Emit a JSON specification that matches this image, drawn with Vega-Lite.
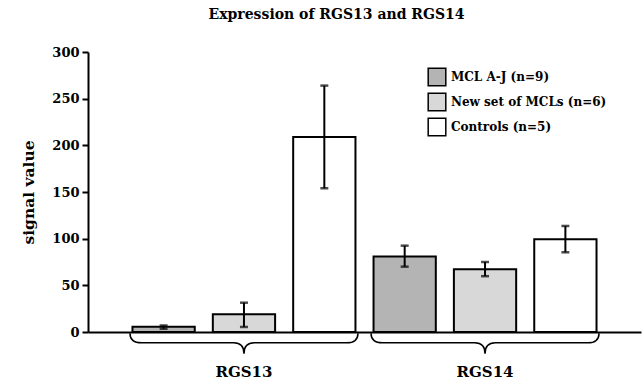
{
  "$schema": "https://vega.github.io/schema/vega-lite/v6.json",
  "width": 553,
  "height": 280,
  "autosize": "none",
  "padding": {"left": 88, "top": 52, "right": 2, "bottom": 50},
  "background": "white",
  "config": {
    "view": {"stroke": null},
    "font": "DejaVu Serif"
  },
  "title": {
    "text": "Expression of RGS13 and RGS14",
    "font": "DejaVu Serif",
    "fontWeight": "bold",
    "fontSize": 14,
    "color": "black",
    "anchor": "middle",
    "dx": -28,
    "offset": 24
  },
  "datasets": {
    "bars": [
      {"gene": "RGS13", "series": "MCL A-J (n=9)", "value": 5.5, "low": 3.5, "high": 7},
      {"gene": "RGS13", "series": "New set of MCLs (n=6)", "value": 19, "low": 5.4, "high": 31.4},
      {"gene": "RGS13", "series": "Controls (n=5)", "value": 209, "low": 154, "high": 264},
      {"gene": "RGS14", "series": "MCL A-J (n=9)", "value": 81, "low": 70, "high": 92.5},
      {"gene": "RGS14", "series": "New set of MCLs (n=6)", "value": 67.3, "low": 59.8, "high": 75},
      {"gene": "RGS14", "series": "Controls (n=5)", "value": 99.3, "low": 85.4, "high": 113.6}
    ],
    "genes": [{"gene": "RGS13"}, {"gene": "RGS14"}]
  },
  "encoding": {
    "x": {
      "field": "gene",
      "type": "nominal",
      "scale": {"paddingInner": 0, "paddingOuter": 0.147},
      "axis": {
        "title": null,
        "labelAngle": 0,
        "ticks": false,
        "domainColor": "black",
        "domainWidth": 2,
        "labelFont": "DejaVu Serif",
        "labelFontWeight": "bold",
        "labelFontSize": 15,
        "labelColor": "black",
        "labelPadding": 32
      }
    }
  },
  "layer": [
    {
      "data": {"name": "bars"},
      "mark": {"type": "bar", "stroke": "black", "strokeWidth": 2},
      "encoding": {
        "xOffset": {
          "field": "series",
          "type": "nominal",
          "sort": ["MCL A-J (n=9)", "New set of MCLs (n=6)", "Controls (n=5)"],
          "scale": {"paddingInner": 0.225, "paddingOuter": 0.1125}
        },
        "y": {
          "field": "value",
          "type": "quantitative",
          "scale": {"domain": [0, 300], "nice": false},
          "axis": {
            "title": "signal value",
            "values": [0, 50, 100, 150, 200, 250, 300],
            "grid": false,
            "domainColor": "black",
            "domainWidth": 2,
            "tickColor": "black",
            "tickWidth": 2,
            "tickSize": 6,
            "labelFont": "DejaVu Serif",
            "labelFontWeight": "bold",
            "labelFontSize": 13,
            "labelColor": "black",
            "labelPadding": 3,
            "titleFont": "DejaVu Serif",
            "titleFontWeight": "bold",
            "titleFontSize": 15.5,
            "titleColor": "black",
            "titlePadding": 15
          }
        },
        "fill": {
          "field": "series",
          "type": "nominal",
          "scale": {
            "domain": ["MCL A-J (n=9)", "New set of MCLs (n=6)", "Controls (n=5)"],
            "range": ["#b4b4b4", "#d8d8d8", "#ffffff"]
          },
          "legend": {
            "title": null,
            "orient": "none",
            "legendX": 339,
            "legendY": 15,
            "symbolType": "square",
            "symbolSize": 310,
            "symbolStrokeColor": "black",
            "symbolStrokeWidth": 1.5,
            "symbolOpacity": 1,
            "labelFont": "DejaVu Serif",
            "labelFontWeight": "bold",
            "labelFontSize": 12,
            "labelColor": "black",
            "labelOffset": 4,
            "rowPadding": 1,
            "labelLimit": 300
          }
        }
      }
    },
    {
      "data": {"name": "bars"},
      "mark": {"type": "rule", "color": "black", "strokeWidth": 2},
      "encoding": {
        "xOffset": {"field": "series", "type": "nominal", "sort": ["MCL A-J (n=9)", "New set of MCLs (n=6)", "Controls (n=5)"]},
        "y": {"field": "low", "type": "quantitative"},
        "y2": {"field": "high"}
      }
    },
    {
      "data": {"name": "bars"},
      "mark": {"type": "tick", "color": "black", "size": 8, "thickness": 2.5},
      "encoding": {
        "xOffset": {"field": "series", "type": "nominal", "sort": ["MCL A-J (n=9)", "New set of MCLs (n=6)", "Controls (n=5)"]},
        "y": {"field": "low", "type": "quantitative"}
      }
    },
    {
      "data": {"name": "bars"},
      "mark": {"type": "tick", "color": "black", "size": 8, "thickness": 2.5},
      "encoding": {
        "xOffset": {"field": "series", "type": "nominal", "sort": ["MCL A-J (n=9)", "New set of MCLs (n=6)", "Controls (n=5)"]},
        "y": {"field": "high", "type": "quantitative"}
      }
    },
    {
      "data": {"name": "genes"},
      "mark": {
        "type": "point",
        "shape": "M -1 0.01 Q -1 0.095 -0.9 0.095 L -0.09 0.095 Q 0 0.095 0 0.19 Q 0 0.095 0.09 0.095 L 0.9 0.095 Q 1 0.095 1 0.01",
        "size": 51984,
        "filled": false,
        "stroke": "black",
        "strokeWidth": 1.5,
        "opacity": 1
      },
      "encoding": {
        "y": {"datum": 0, "type": "quantitative"}
      }
    }
  ]
}
